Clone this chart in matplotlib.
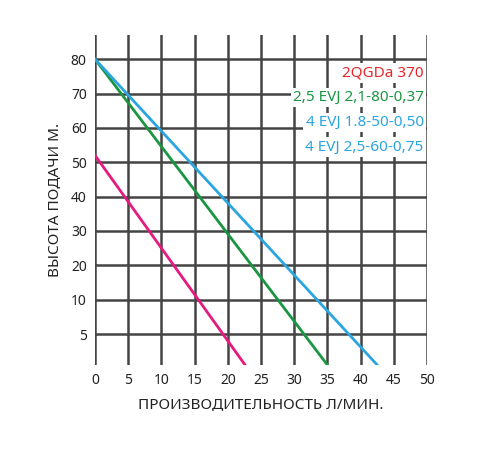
import matplotlib.pyplot as plt

# Données
y_ticks = [0, 10, 20, 30, 40, 50, 60, 70, 80]
y_labels = ['5', '10', '20', '30', '40', '50', '60', '70', '80']
x_ticks = [0, 5, 10, 15, 20, 25, 30, 35, 40, 45, 50]
y_bottom = -9

pink_x = [0, 22.6]
pink_y = [52, y_bottom]
green_x = [0, 35]
green_y = [80, y_bottom]
blue_x = [0, 42.5]
blue_y = [80, y_bottom]

legend_texts = ['2QGDa 370', '2,5 EVJ 2,1-80-0,37', '4 EVJ 1.8-50-0,50', '4 EVJ 2,5-60-0,75']
legend_colors = ['#e8262b', '#1a9641', '#2aa5e0', '#2aa5e0']

plt.rcParams['font.family'] = ['Noto Sans', 'DejaVu Sans']
fig = plt.figure(figsize=(5, 4.5), dpi=100)
ax = fig.add_axes([0.19, 0.189, 0.664, 0.733])
ax.set_xlim(0, 50)
ax.set_ylim(y_bottom, 87)
ax.set_xticks(x_ticks)
ax.set_yticks(y_ticks)
ax.set_yticklabels(y_labels)
ax.grid(True, color='#444444', linewidth=1.8)
for s in ax.spines.values():
    s.set_visible(False)
ax.tick_params(length=0, labelsize=10, colors='#222222', pad=6)

ax.plot(pink_x, pink_y, color='#e6197f', lw=2)
ax.plot(green_x, green_y, color='#1a9641', lw=2)
ax.plot(blue_x, blue_y, color='#2aa5e0', lw=2)

for i, (t, c) in enumerate(zip(legend_texts, legend_colors)):
    ax.text(49.5, 76 - i * 7.2, t, color=c, ha='right', va='center', fontsize=11,
            fontweight='bold', bbox=dict(facecolor='white', edgecolor='none', pad=1.5))

ax.set_xlabel('ПРОИЗВОДИТЕЛЬНОСТЬ Л/МИН.', fontsize=11, color='#222222', labelpad=6,
              fontweight='medium')
ax.set_ylabel('ВЫСОТА ПОДАЧИ М.', fontsize=11, color='#222222', labelpad=6,
              fontweight='medium')

fig.savefig('out.png')
